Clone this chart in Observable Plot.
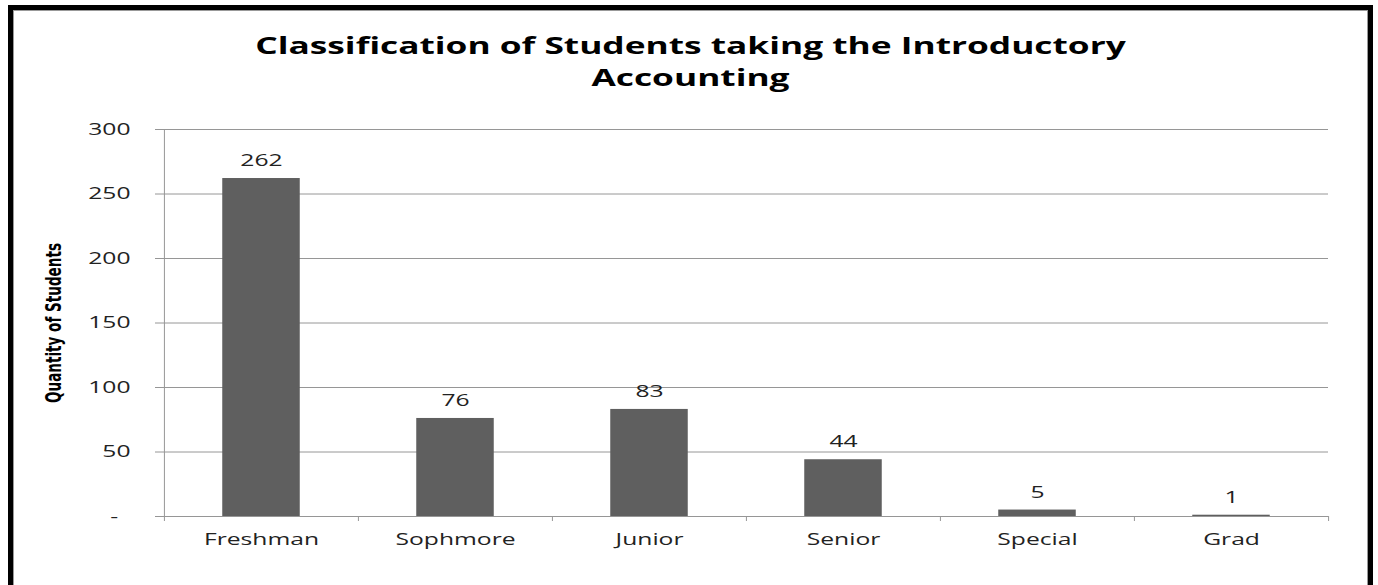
<!DOCTYPE html>
<html><head><meta charset="utf-8">
<script src="https://cdn.jsdelivr.net/npm/d3@7"></script>
<script src="https://cdn.jsdelivr.net/npm/@observablehq/plot@0.6"></script>
<style>
html,body{margin:0;padding:0;background:#fff;overflow:hidden;}
#frame{position:absolute;left:8px;top:5px;width:1355px;height:620px;border:5px solid #000;box-shadow:inset 0 0 0 1px #999;background:#fff;}
#title{margin-top:19px;text-align:center;font:bold 24px "Open Sans",sans-serif;line-height:32px;color:#000;}
#title .t{transform:scaleX(1.47);transform-origin:50% 50%;}
#chart{margin-top:7px;}
#chart svg{display:block;}
</style></head><body>
<div id="frame">
<div id="title"><div class="t">Classification of Students taking the Introductory</div><div class="t">Accounting</div></div>
<div id="chart"></div>
</div>
<script>
const categories = ["Freshman","Sophmore","Junior","Senior","Special","Grad"];
const counts = [262,76,83,44,5,1];
const yTicks = [0,50,100,150,200,250,300];
const yLabel = "Quantity of Students";

const data = categories.map((c,i)=>({category:c,count:counts[i]}));
const W = 1355, H = 485, ML = 150, MR = 40, MT = 29, MB = 69;
const bw = (W - ML - MR) / categories.length;
const gridColor = "#969696";

const chart = Plot.plot({
  width: W, height: H, marginTop: MT, marginBottom: MB, marginLeft: ML, marginRight: MR,
  style: {fontFamily: "'Open Sans', sans-serif", fontSize: "17px", color: "#222", background: "transparent"},
  x: {domain: categories, padding: 0},
  y: {domain: [0, 300]},
  marks: [
    Plot.gridY(yTicks, {stroke: gridColor, strokeOpacity: 1}),
    Plot.ruleY([0], {stroke: gridColor}),
    Plot.ruleX([categories[0]], {dx: -bw/2, y1: 0, y2: 300, stroke: gridColor}),
    Plot.axisX(categories, {tickSize: 5, dx: -bw/2, tickFormat: () => "", stroke: gridColor, label: null}),
    Plot.axisX([categories[categories.length-1]], {tickSize: 5, dx: bw/2, tickFormat: () => "", stroke: gridColor, label: null}),
    Plot.barY(data, {x: "category", y: "count", fill: "#5f5f5f", insetLeft: bw*0.3, insetRight: bw*0.3}),
    Plot.axisX(categories, {tickSize: 0, tickPadding: 16, label: null, fill: "#222"}),
    Plot.axisY(yTicks, {tickSize: 8, tickPadding: 25, stroke: gridColor, fill: "#222", label: null,
      tickFormat: d => d === 0 ? "-\u2002" : String(d)}),
    Plot.text(data, {x: "category", y: "count", text: d => String(d.count), dy: -18, fill: "#222"}),
    Plot.text([yLabel], {frameAnchor: "left", textAnchor: "middle", rotate: -90, dx: -109, fontWeight: "bold", fontSize: 21,
      fontFamily: "'DejaVu Sans Condensed','Liberation Sans Narrow','DejaVu Sans',sans-serif", fill: "#000"})
  ]
});
document.getElementById("chart").appendChild(chart);
d3.select(chart).selectAll("text").each(function(){
  if (this.textContent === yLabel) {
    this.setAttribute("textLength", 160);
  } else {
    const len = this.getComputedTextLength();
    if (!(len > 0)) return;
    this.setAttribute("textLength", len * 1.45);
  }
  this.setAttribute("lengthAdjust", "spacingAndGlyphs");
});
</script>
</body></html>
